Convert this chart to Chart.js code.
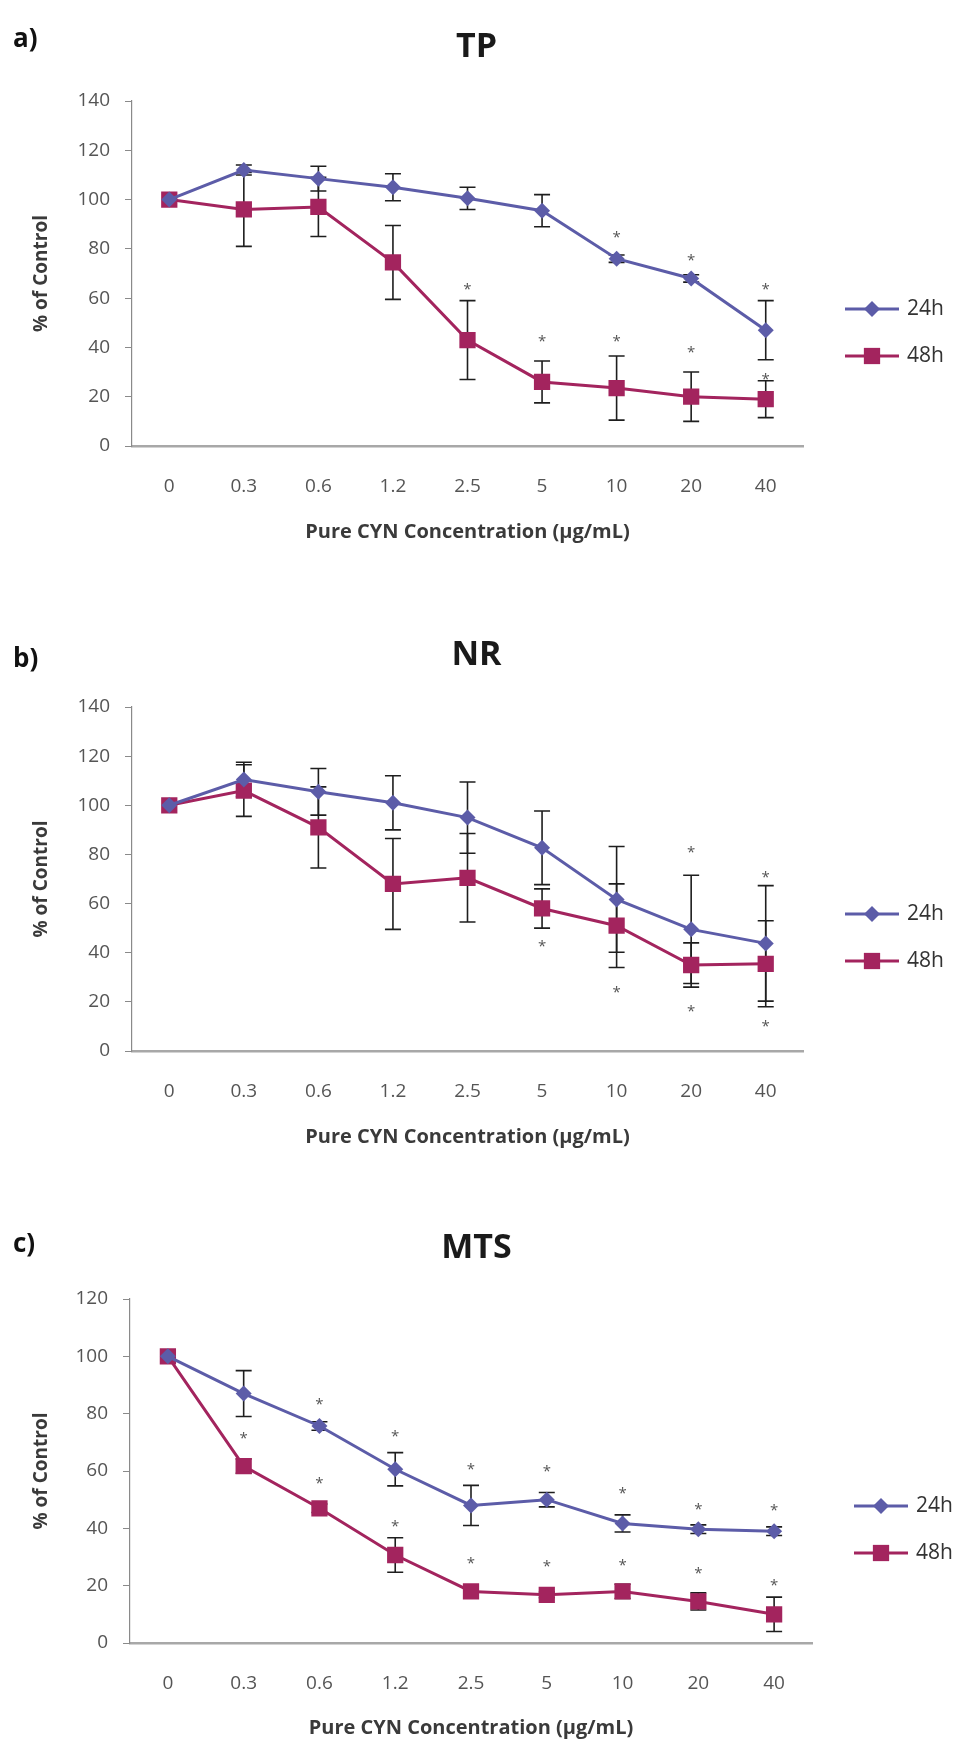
<!DOCTYPE html>
<html>
<head>
<meta charset="utf-8">
<title>CYN - TP / NR / MTS</title>
<script src="https://cdn.jsdelivr.net/npm/chart.js@4.4.1/dist/chart.umd.min.js"></script>
<style>
    body { margin: 0; background: #fff; }
    #pagina { position: relative; width: 953px; height: 1743px; overflow: hidden; background: #fff; }
    .painel { position: absolute; left: 0; width: 953px; }
    .letra { position: absolute; left: 13px; font: bold 26px "Open Sans", sans-serif; line-height: 26px; color: #111; }
</style>
</head>
<body>
<div id="pagina">
    <div class="painel" style="top:0px;height:560px"><canvas id="graficoTP"></canvas></div>
    <div class="painel" style="top:560px;height:595px"><canvas id="graficoNR"></canvas></div>
    <div class="painel" style="top:1140px;height:603px"><canvas id="graficoMTS"></canvas></div>
    <div class="letra" style="top:24px">a)</div>
    <div class="letra" style="top:644px">b)</div>
    <div class="letra" style="top:1229px">c)</div>
</div>

<script>
// concentracoes (eixo x)
const concentracoes = ['0', '0.3', '0.6', '1.2', '2.5', '5', '10', '20', '40'];
const series = ['24h', '48h'];

// a) TP
const tp24 = [100, 112, 108.5, 105, 100.5, 95.5, 76, 68, 47];
const tp24Desvio = [0, 2, 5, 5.5, 4.5, 6.5, 1.5, 1.5, 12];
const tp24Asterisco = [null, null, null, null, null, null, 86, 77, 65];
const tp48 = [100, 96, 97, 74.5, 43, 26, 23.5, 20, 19];
const tp48Desvio = [0, 15, 12, 15, 16, 8.5, 13, 10, 7.5];
const tp48Asterisco = [null, null, null, null, 65, 44, 44, 39.5, 28.5];

// b) NR
const nr24 = [100, 110.5, 105.5, 101, 95, 82.7, 61.7, 49.5, 43.8];
const nr24Desvio = [0, 7, 9.5, 11, 14.5, 15, 21.5, 22, 23.5];
const nr24Asterisco = [null, null, null, null, null, null, null, 82.5, 72];
const nr48 = [100, 106, 91, 68, 70.5, 58, 51, 35, 35.5];
const nr48Desvio = [0, 10.5, 16.5, 18.5, 18, 8, 17, 9, 17.5];
const nr48Asterisco = [null, null, null, null, null, 44, 25.5, 17.5, 11.5];

// c) MTS
const mts24 = [100, 87, 75.7, 60.6, 48, 50, 41.7, 39.7, 39];
const mts24Desvio = [0, 8, 1.5, 5.8, 7, 2.5, 3, 1.5, 1.5];
const mts24Asterisco = [null, null, 84.5, 73.5, 62, 61, 53.5, 48, 47.5];
const mts48 = [100, 61.7, 47, 30.7, 18, 16.8, 18, 14.5, 10];
const mts48Desvio = [0, 2.5, 1.5, 6, 1.5, 1, 2.5, 3, 6];
const mts48Asterisco = [null, 72.5, 57, 42, 29, 28, 28.5, 25.5, 21.5];

const cor24 = '#5c5ca8';
const cor48 = '#a3245e';
const fonte = '"Open Sans", "DejaVu Sans", sans-serif';

// barras de erro (desenhadas antes das linhas)
const barrasErro = {
    id: 'barrasErro',
    beforeDatasetsDraw(chart) {
        const ctx = chart.ctx;
        const x = chart.scales.x;
        const y = chart.scales.y;
        ctx.save();
        ctx.strokeStyle = '#1e1e1e';
        ctx.lineWidth = 1.6;
        chart.data.datasets.forEach((ds) => {
            ds.data.forEach((valor, i) => {
                const sd = ds.desvio[i];
                if (!sd) return;
                const px = x.getPixelForValue(i);
                const topo = y.getPixelForValue(valor + sd);
                const base = y.getPixelForValue(valor - sd);
                ctx.beginPath();
                ctx.moveTo(px, topo);
                ctx.lineTo(px, base);
                ctx.moveTo(px - 8, topo);
                ctx.lineTo(px + 8, topo);
                ctx.moveTo(px - 8, base);
                ctx.lineTo(px + 8, base);
                ctx.stroke();
            });
        });
        ctx.restore();
    }
};

// asteriscos de significancia
const asteriscos = {
    id: 'asteriscos',
    afterDatasetsDraw(chart) {
        const ctx = chart.ctx;
        const x = chart.scales.x;
        const y = chart.scales.y;
        ctx.save();
        ctx.fillStyle = '#555';
        ctx.font = '15px ' + fonte;
        ctx.textAlign = 'center';
        ctx.textBaseline = 'middle';
        chart.data.datasets.forEach((ds) => {
            ds.asteriscos.forEach((valor, i) => {
                if (valor == null) return;
                ctx.fillText('*', x.getPixelForValue(i), y.getPixelForValue(valor) + 4);
            });
        });
        ctx.restore();
    }
};

function desenharMarcador(ctx, estilo, raio, cx, cy) {
    ctx.beginPath();
    if (estilo == 'rect') {
        const lado = raio * Math.SQRT1_2;
        ctx.rect(cx - lado, cy - lado, lado * 2, lado * 2);
    } else {
        ctx.moveTo(cx, cy - raio);
        ctx.lineTo(cx + raio, cy);
        ctx.lineTo(cx, cy + raio);
        ctx.lineTo(cx - raio, cy);
        ctx.closePath();
    }
    ctx.fill();
}

// legenda a direita, no estilo do excel
const legendaLateral = {
    id: 'legendaLateral',
    afterDraw(chart) {
        const ctx = chart.ctx;
        const area = chart.chartArea;
        ctx.save();
        chart.data.datasets.forEach((ds, i) => {
            const y = area.bottom - 137 + i * 47;
            const x0 = area.right + 42;
            ctx.strokeStyle = ds.borderColor;
            ctx.lineWidth = 3;
            ctx.beginPath();
            ctx.moveTo(x0, y);
            ctx.lineTo(x0 + 54, y);
            ctx.stroke();
            ctx.fillStyle = ds.backgroundColor;
            desenharMarcador(ctx, ds.pointStyle, ds.pointRadius, x0 + 27, y);
            ctx.fillStyle = '#333';
            ctx.font = '21px ' + fonte;
            ctx.textAlign = 'left';
            ctx.textBaseline = 'middle';
            ctx.fillText(ds.label, x0 + 62, y);
        });
        ctx.restore();
    }
};

function plotarGrafico(idCanvas, titulo, dados24, desvio24, ast24, dados48, desvio48, ast48, yMax, m) {
    const grafico = document.getElementById(idCanvas);

    let dados = {
        labels: concentracoes,
        datasets: [
            {
                label: series[0],
                data: dados24,
                desvio: desvio24,
                asteriscos: ast24,
                borderColor: cor24,
                backgroundColor: cor24,
                borderWidth: 3,
                pointStyle: 'rectRot',
                pointRadius: 8,
                pointBorderWidth: 0,
                tension: 0
            },
            {
                label: series[1],
                data: dados48,
                desvio: desvio48,
                asteriscos: ast48,
                borderColor: cor48,
                backgroundColor: cor48,
                borderWidth: 3,
                pointStyle: 'rect',
                pointRadius: 11.5,
                pointBorderWidth: 0,
                tension: 0
            }
        ]
    };

    new Chart(grafico, {
        type: 'line',
        data: dados,
        plugins: [barrasErro, asteriscos, legendaLateral],
        options: {
            responsive: true,
            maintainAspectRatio: false,
            animation: false,
            layout: {
                padding: 0
            },
            plugins: {
                legend: { display: false },
                tooltip: { enabled: false },
                title: {
                    display: true,
                    text: titulo,
                    color: '#1a1a1a',
                    font: { family: fonte, size: 34, weight: 'bold', lineHeight: 1 },
                    padding: { top: m.tituloTopo, bottom: m.tituloBaixo }
                }
            },
            scales: {
                x: {
                    offset: true,
                    grid: { display: false, drawTicks: false },
                    border: { display: true, color: '#a8a8a8', width: 2.5 },
                    ticks: {
                        color: '#555',
                        font: { family: fonte, size: 19 },
                        padding: 29.6,
                        autoSkip: false,
                        maxRotation: 0
                    },
                    title: {
                        display: true,
                        text: 'Pure CYN Concentration (µg/mL)',
                        color: '#3a3a3a',
                        font: { family: fonte, size: 20, weight: 'bold' },
                        padding: { top: 0, bottom: m.tituloX }
                    },
                    afterFit(escala) { escala.height = m.alturaX; }
                },
                y: {
                    min: 0,
                    max: yMax,
                    ticks: {
                        stepSize: 20,
                        color: '#555',
                        font: { family: fonte, size: 19 },
                        padding: 15
                    },
                    grid: { drawOnChartArea: false, drawTicks: true, tickLength: 7, color: '#8a8a8a' },
                    border: { display: true, color: '#8a8a8a', width: 1.2 },
                    title: {
                        display: true,
                        text: '% of Control',
                        color: '#3a3a3a',
                        font: { family: fonte, size: 19, weight: 'bold' },
                        padding: { top: 30.6, bottom: 0 }
                    },
                    afterFit(escala) { escala.width = m.larguraY; }
                },
                // espaco vazio a direita onde fica a legenda
                lateral: {
                    type: 'linear',
                    position: 'right',
                    display: true,
                    grid: { display: false },
                    border: { display: false },
                    ticks: { display: false },
                    afterFit(escala) { escala.width = m.direita; }
                }
            }
        }
    });
}

plotarGrafico('graficoTP', 'TP', tp24, tp24Desvio, tp24Asterisco, tp48, tp48Desvio, tp48Asterisco, 140,
    { direita: 150, larguraY: 132, tituloTopo: 30, tituloBaixo: 37, alturaX: 114, tituloX: 16 });
plotarGrafico('graficoNR', 'NR', nr24, nr24Desvio, nr24Asterisco, nr48, nr48Desvio, nr48Asterisco, 140,
    { direita: 150, larguraY: 132, tituloTopo: 78, tituloBaixo: 35, alturaX: 104, tituloX: 6 });
plotarGrafico('graficoMTS', 'MTS', mts24, mts24Desvio, mts24Asterisco, mts48, mts48Desvio, mts48Asterisco, 120,
    { direita: 141, larguraY: 130, tituloTopo: 91, tituloBaixo: 34, alturaX: 100, tituloX: 3 });
</script>
</body>
</html>
